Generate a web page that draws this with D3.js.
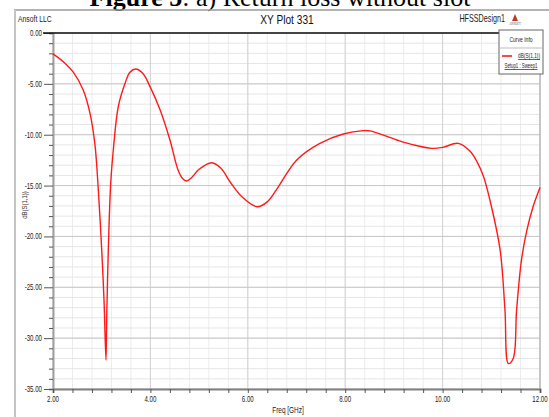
<!DOCTYPE html>
<html>
<head>
<meta charset="utf-8">
<script src="https://cdn.jsdelivr.net/npm/d3@7"></script>
<style>
  body { margin: 0; background: #fff; }
  svg { display: block; }
  .narrow { font-family: "Liberation Sans", Arial, sans-serif; }
</style>
</head>
<body>
<div id="chart"></div>
<script>
// Frequency points (GHz) and return loss dB(S(1,1))
const freq = [2.0, 2.21, 2.42, 2.62, 2.76, 2.862, 2.93, 3.0, 3.047, 3.088, 3.103, 3.136, 3.185, 3.238, 3.34, 3.48, 3.58, 3.7, 3.85, 3.99,
  4.2, 4.4, 4.57, 4.66, 4.74, 4.85, 5.0, 5.26, 5.45, 5.63, 5.9, 6.19, 6.4, 6.59, 7.0, 7.48, 7.96, 8.37, 8.51,
  9.06, 9.4, 9.78, 10.0, 10.32, 10.56, 10.7, 10.84, 10.97, 11.18, 11.28, 11.35, 11.45, 11.52, 11.62, 11.73, 11.85, 12.0];
const s11 = [-2.05, -2.82, -3.87, -5.6, -7.9, -11.0, -15.4, -21.3, -26.2, -32.15, -27.9, -21.3, -14.75, -11.5, -7.25, -4.95, -3.85, -3.54, -4.0, -5.25,
  -7.57, -10.5, -13.5, -14.3, -14.55, -14.2, -13.4, -12.75, -13.3, -14.6, -16.2, -17.08, -16.6, -15.4, -12.5, -10.85, -9.93, -9.6, -9.62,
  -10.52, -11.0, -11.34, -11.25, -10.85, -11.6, -12.6, -14.1, -16.4, -21.3, -27.2, -32.5, -32.0, -27.2, -22.3, -19.4, -17.2, -15.2];

const xTicks = [2, 4, 6, 8, 10, 12];
const yTicks = [0, -5, -10, -15, -20, -25, -30, -35];

const width = 549, height = 417;
const plot = { left: 53, right: 540, top: 33, bottom: 389 };

const svg = d3.select('#chart').append('svg')
    .attr('width', width)
    .attr('height', height);

// squeeze text horizontally round its anchor point (the HFSS font is condensed)
function narrowText(parent, tx, ty, str, size, anchor, sx = 0.78) {
    return parent.append('text')
        .attr('class', 'narrow')
        .attr('transform', `translate(${tx},${ty}) scale(${sx},1)`)
        .attr('text-anchor', anchor || 'start')
        .attr('font-size', size)
        .attr('fill', '#222')
        .text(str);
}

// Figure caption, cut off at the top
svg.append('text')
    .attr('x', 280).attr('y', 6)
    .attr('text-anchor', 'middle')
    .attr('font-family', '"Liberation Serif", "Times New Roman", serif')
    .attr('font-size', 26)
    .html('<tspan font-weight="bold">Figure 5</tspan><tspan>: a) Return loss without slot</tspan>');

// Outer window frame
svg.append('line').attr('x1', 14).attr('x2', width).attr('y1', 10).attr('y2', 10)
    .attr('stroke', '#9a9a9a').attr('stroke-width', 1.5);
svg.append('line').attr('x1', 15).attr('x2', 15).attr('y1', 10).attr('y2', height)
    .attr('stroke', '#c4c4c4').attr('stroke-width', 2);

const x = d3.scaleLinear().domain([2, 12]).range([plot.left, plot.right]);
const y = d3.scaleLinear().domain([-35, 0]).range([plot.bottom, plot.top]);

// Grid: minor every 0.4 GHz / 1 dB, major every 2 GHz / 5 dB
const g = svg.append('g');
const xMinor = d3.range(2, 12.001, 0.4);
const yMinor = d3.range(-35, 0.001, 1);
g.selectAll('.vminor').data(xMinor).enter().append('line')
    .attr('x1', d => x(d)).attr('x2', d => x(d))
    .attr('y1', plot.top).attr('y2', plot.bottom)
    .attr('stroke', '#ececec').attr('stroke-width', 1);
g.selectAll('.hminor').data(yMinor).enter().append('line')
    .attr('x1', plot.left).attr('x2', plot.right)
    .attr('y1', d => y(d)).attr('y2', d => y(d))
    .attr('stroke', '#e6e6e6').attr('stroke-width', 1);
g.selectAll('.vmajor').data(xTicks).enter().append('line')
    .attr('x1', d => x(d)).attr('x2', d => x(d))
    .attr('y1', plot.top).attr('y2', plot.bottom)
    .attr('stroke', '#d2d2d2').attr('stroke-width', 1);
g.selectAll('.hmajor').data(yTicks).enter().append('line')
    .attr('x1', plot.left).attr('x2', plot.right)
    .attr('y1', d => y(d)).attr('y2', d => y(d))
    .attr('stroke', '#c8c8c8').attr('stroke-width', 1);

// Right border of plot
svg.append('line').attr('x1', plot.right).attr('x2', plot.right)
    .attr('y1', plot.top).attr('y2', plot.bottom)
    .attr('stroke', '#bdbdbd').attr('stroke-width', 1.5);

// Y axis
const yAxis = svg.append('g')
    .attr('transform', `translate(${plot.left},0)`)
    .call(d3.axisLeft(y).tickValues(yMinor).tickSize(4).tickFormat(''));
yAxis.selectAll('.tick line')
    .attr('x2', d => yTicks.includes(d) ? -9 : -4)
    .attr('stroke', '#555');
yAxis.select('.domain').attr('stroke', '#a0a0a0').attr('stroke-width', 2);
yTicks.forEach(d => narrowText(svg, 42, y(d) + 3, d.toFixed(2), 8.5, 'end', 0.72));

// X axis
const xAxis = svg.append('g')
    .attr('transform', `translate(0,${plot.bottom})`)
    .call(d3.axisBottom(x).tickValues(xMinor).tickSize(4).tickFormat(''));
xAxis.selectAll('.tick line').attr('stroke', '#555');
xAxis.select('.domain').attr('stroke', '#808080').attr('stroke-width', 2);
xTicks.forEach(d => narrowText(svg, x(d), 402, d.toFixed(2), 8.5, 'middle', 0.72));

// Top border line (black)
svg.append('line').attr('x1', 43).attr('x2', plot.right).attr('y1', plot.top).attr('y2', plot.top)
    .attr('stroke', '#111').attr('stroke-width', 1.5);

// Curve
const line = d3.line()
    .x((d, i) => x(freq[i]))
    .y(d => y(d))
    .curve(d3.curveCatmullRom.alpha(0.5));
svg.append('path')
    .datum(s11)
    .attr('d', line)
    .attr('fill', 'none')
    .attr('stroke', '#ff1a1a')
    .attr('stroke-width', 1.4);

// Header texts
narrowText(svg, 18, 22, 'Ansoft LLC', 9.5, 'start', 0.72);
narrowText(svg, 287, 24, 'XY Plot 331', 13, 'middle', 0.78).attr('fill', '#111');
narrowText(svg, 505, 22, 'HFSSDesign1', 10, 'end', 0.72);
// small logo
svg.append('path').attr('d', 'M512,21 L515,14 L518,21 Z').attr('fill', '#c0392b');
svg.append('text').attr('x', 515).attr('y', 25).attr('text-anchor', 'middle')
    .attr('font-size', 3).attr('fill', '#555').text('ANSOFT');

// Axis titles
svg.append('text').attr('class', 'narrow')
    .attr('transform', 'translate(27,205) rotate(-90) scale(0.8,1)')
    .attr('text-anchor', 'middle').attr('font-size', 7.5).attr('fill', '#333')
    .text('dB(S(1,1))');
narrowText(svg, 288, 413, 'Freq [GHz]', 9, 'middle', 0.72);

// Legend box
const lg = svg.append('g').attr('transform', 'translate(499,30)');
lg.append('rect').attr('width', 44).attr('height', 44)
    .attr('fill', '#fff').attr('stroke', '#666').attr('stroke-width', 1);
lg.append('line').attr('x1', 0).attr('x2', 44).attr('y1', 18).attr('y2', 18).attr('stroke', '#bbb');
narrowText(lg, 22, 12, 'Curve Info', 7, 'middle', 0.72);
lg.append('line').attr('x1', 3).attr('x2', 13).attr('y1', 26).attr('y2', 26)
    .attr('stroke', '#ff1a1a').attr('stroke-width', 1.6);
narrowText(lg, 41, 28, 'dB(S(1,1))', 7, 'end', 0.68).attr('text-decoration', 'underline');
narrowText(lg, 22, 38, 'Setup1 : Sweep1', 7, 'middle', 0.62).attr('text-decoration', 'underline');
</script>
</body>
</html>
